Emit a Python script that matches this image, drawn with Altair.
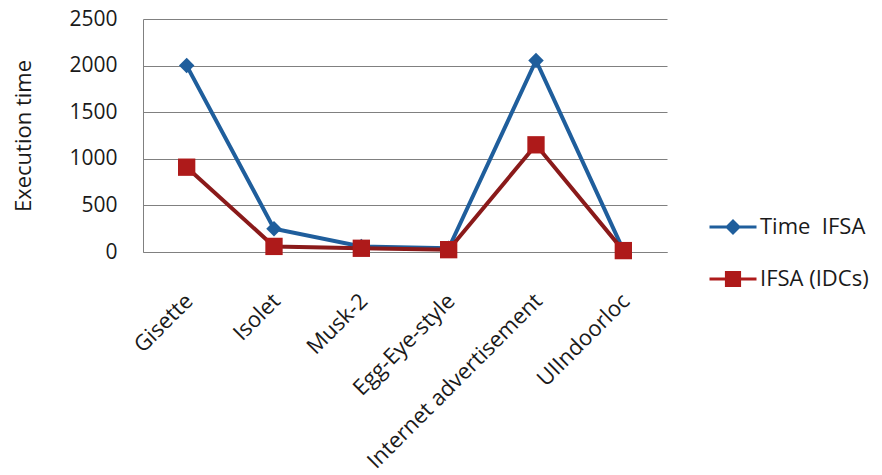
import altair as alt
import pandas as pd

datasets = ["Gisette", "Isolet", "Musk-2", "Egg-Eye-style", "Internet advertisement", "UIIndoorloc"]
series_names = ["Time\u00a0 IFSA", "IFSA (IDCs)"]
time_ifsa = [2000, 250, 60, 40, 2055, 20]
ifsa_idcs = [910, 60, 40, 25, 1150, 15]

BLUE = "#1F5E9C"
RED_LINE = "#8A1A1A"
RED_MARK = "#AE1A1A"
FONT = "Open Sans"
TXT = "#1a1a1a"

rows = []
for d, a, b in zip(datasets, time_ifsa, ifsa_idcs):
    rows.append({"dataset": d, "series": series_names[0], "value": a})
    rows.append({"dataset": d, "series": series_names[1], "value": b})
df = pd.DataFrame(rows)

x_enc = alt.X(
    "dataset:N",
    sort=datasets,
    scale=alt.Scale(type="point", padding=0.5),
    axis=alt.Axis(
        title=None, labelAngle=-45, labelAlign="right", labelBaseline="top",
        labelPadding=38, labelOffset=-5, ticks=False, grid=False, domainColor="#808080",
        labelFont=FONT, labelFontSize=22, labelColor=TXT, labelLimit=400,
    ),
)
y_enc = alt.Y(
    "value:Q",
    scale=alt.Scale(domain=[0, 2500], nice=False),
    axis=alt.Axis(
        title="Execution time", values=[0, 500, 1000, 1500, 2000, 2500], format="d",
        ticks=False, grid=True, gridColor="#808080", gridWidth=1,
        domainColor="#808080", labelPadding=26, labelFont=FONT, labelFontSize=21,
        labelColor=TXT, titleFont=FONT, titleFontSize=22, titleFontWeight="normal",
        titleColor=TXT, titlePadding=33,
    ),
)

base = alt.Chart(df)
blue = base.transform_filter(alt.datum.series == series_names[0])
red = base.transform_filter(alt.datum.series == series_names[1])

blue_line = blue.mark_line(color=BLUE, strokeWidth=4).encode(x=x_enc, y=y_enc)
blue_pts = blue.mark_point(shape="diamond", filled=True, color=BLUE, size=240, opacity=1).encode(x=x_enc, y=y_enc)
red_line = red.mark_line(color=RED_LINE, strokeWidth=4).encode(x=x_enc, y=y_enc)
red_pts = red.mark_point(shape="square", filled=True, color=RED_MARK, size=300, opacity=1).encode(x=x_enc, y=y_enc)

leg = alt.Legend(
    title=None, orient="none", legendX=565, legendY=183,
    symbolSize=2209, symbolOpacity=1, symbolStrokeWidth=3,
    labelFont=FONT, labelFontSize=22, labelColor=TXT,
    labelOffset=2, rowPadding=15, padding=0,
)
color_scale = alt.Scale(domain=series_names, range=[BLUE, RED_MARK])
legend_layer = base.mark_point(opacity=0, strokeWidth=3).encode(
    shape=alt.Shape(
        "series:N",
        scale=alt.Scale(
            domain=series_names,
            range=[
                "M-1,0H1M-0.25,0L0,-0.25L0.25,0L0,0.25Z",
                "M-1,0H1M-0.28,-0.28H0.28V0.28H-0.28Z",
            ],
        ),
        legend=leg,
    ),
    fill=alt.Fill("series:N", scale=color_scale, legend=leg),
    stroke=alt.Stroke("series:N", scale=color_scale, legend=leg),
)

chart = alt.layer(blue_line, blue_pts, red_line, red_pts, legend_layer).properties(
    width=524, height=233,
    autosize=alt.AutoSizeParams(type="none"),
    padding={"left": 143, "top": 19, "right": 215, "bottom": 223},
    background="white",
).configure_view(stroke=None)

chart.save("out.html", embed_options={"renderer": "svg", "actions": False})
